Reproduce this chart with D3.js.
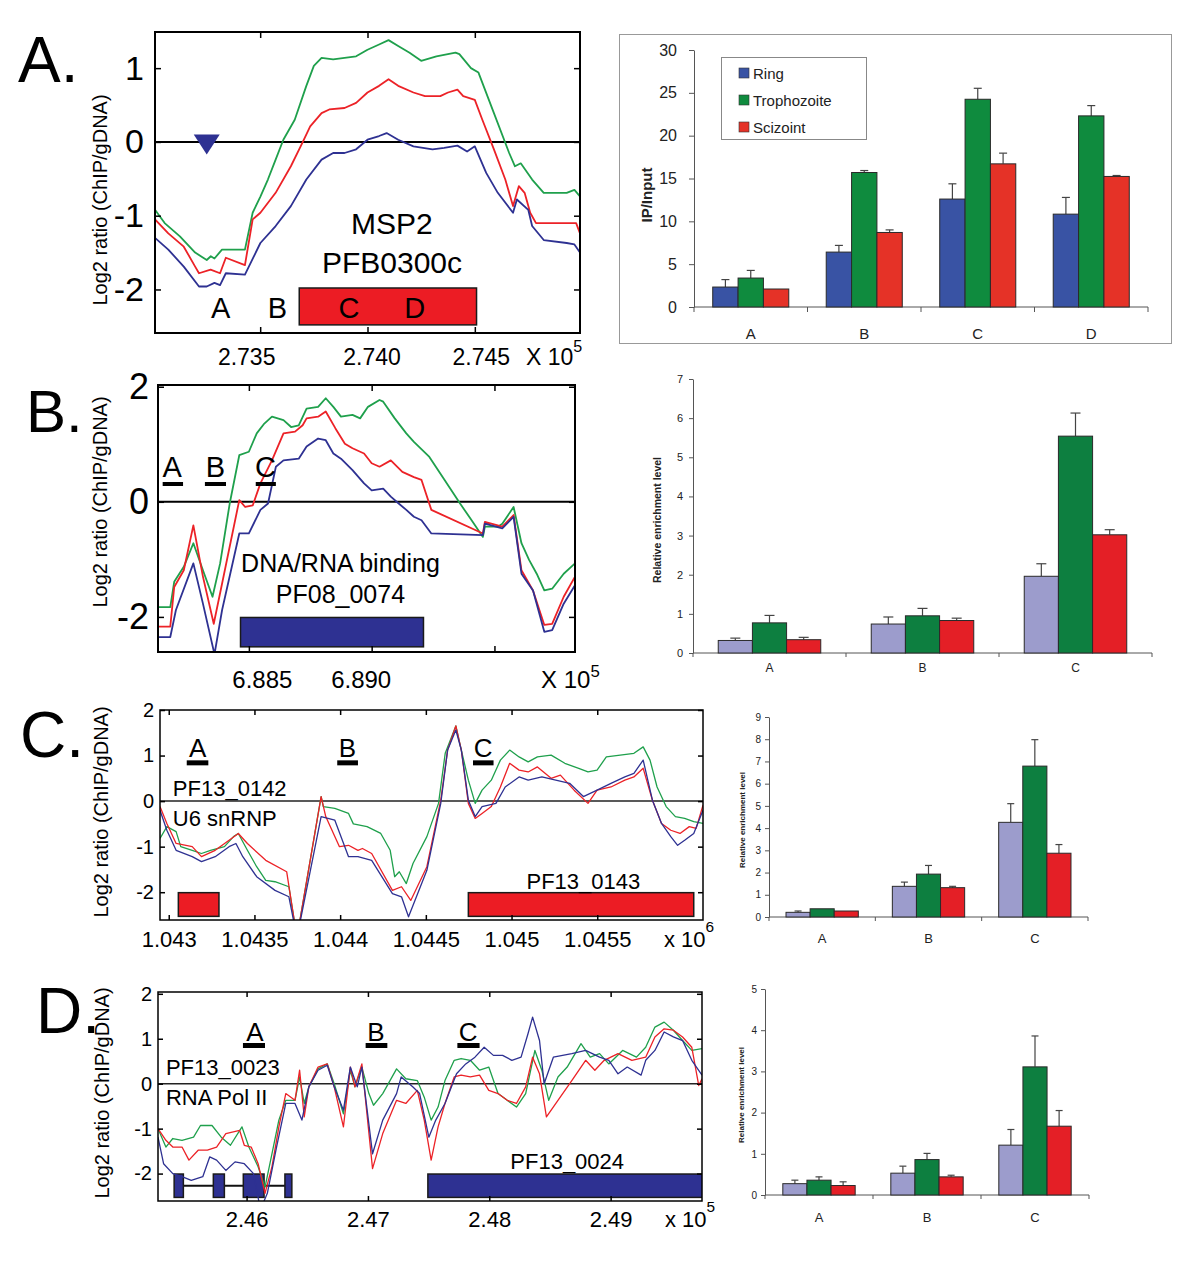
<!DOCTYPE html>
<html><head><meta charset="utf-8">
<script src="https://cdn.jsdelivr.net/npm/d3@7"></script>
<style>body{margin:0;background:#fff}svg{display:block}text{font-family:"Liberation Sans",Arial,sans-serif}</style>
</head><body><script>
// ---------------- DATA ----------------
const colGreen = '#1fa04c', colRed = '#ec2227', colBlue = '#2e3192';
// Panel A track (log2 ratio vs genomic position)
const A_green = [[273010,-0.92],[273055,-1.10],[273126,-1.28],[273197,-1.50],[273251,-1.60],[273270,-1.55],[273287,-1.58],[273322,-1.46],[273429,-1.46],[273465,-0.96],[273501,-0.74],[273536,-0.51],[273572,-0.24],[273608,0.03],[273661,0.30],[273715,0.76],[273750,1.03],[273786,1.14],[273840,1.12],[273893,1.14],[273947,1.16],[274000,1.25],[274054,1.32],[274098,1.38],[274143,1.30],[274196,1.21],[274250,1.10],[274321,1.16],[274410,1.21],[274428,1.19],[274482,1.00],[274517,0.94],[274589,0.39],[274660,-0.15],[274687,-0.33],[274714,-0.29],[274767,-0.51],[274821,-0.69],[274928,-0.69],[274964,-0.65],[274990,-0.74]];
const A_red = [[273010,-1.05],[273072,-1.24],[273144,-1.42],[273197,-1.69],[273215,-1.78],[273269,-1.73],[273313,-1.78],[273340,-1.57],[273429,-1.67],[273465,-1.05],[273501,-0.96],[273572,-0.69],[273643,-0.33],[273697,-0.01],[273733,0.21],[273786,0.39],[273822,0.44],[273893,0.46],[273947,0.53],[274000,0.67],[274054,0.76],[274098,0.85],[274143,0.76],[274214,0.67],[274268,0.62],[274339,0.62],[274375,0.67],[274419,0.71],[274446,0.62],[274500,0.57],[274535,0.30],[274589,-0.10],[274642,-0.51],[274678,-0.87],[274705,-0.60],[274732,-0.69],[274758,-0.96],[274785,-1.10],[274946,-1.10],[274972,-1.10],[274990,-1.24]];
const A_blue = [[273010,-1.30],[273072,-1.46],[273144,-1.69],[273215,-1.96],[273251,-1.96],[273287,-1.91],[273313,-1.94],[273340,-1.78],[273429,-1.80],[273501,-1.37],[273572,-1.14],[273643,-0.87],[273715,-0.51],[273786,-0.24],[273840,-0.15],[273893,-0.15],[273947,-0.10],[274000,0.03],[274054,0.08],[274089,0.12],[274143,0.03],[274214,-0.06],[274303,-0.10],[274357,-0.08],[274419,-0.05],[274464,-0.13],[274500,-0.06],[274553,-0.42],[274607,-0.69],[274678,-0.96],[274696,-0.78],[274749,-0.92],[274767,-1.14],[274821,-1.33],[274928,-1.37],[274964,-1.39],[274990,-1.50]];
const A_xTicks = [273500,274000,274500];
const A_xLabels = ['2.735','2.740','2.745'];
const A_yTicks = [-2,-1,0,1];
const A_yLabels = ['-2','-1','0','1'];
const A_genes = [[273682,274508]];
// Panel B track
const B_green = [[688130,-1.83],[688180,-1.83],[688196,-1.39],[688235,-1.13],[688274,-0.72],[688313,-1.19],[688352,-1.65],[688383,-1.07],[688422,-0.03],[688461,0.81],[688500,0.87],[688532,1.19],[688563,1.36],[688594,1.48],[688641,1.42],[688672,1.30],[688703,1.33],[688735,1.62],[688782,1.65],[688813,1.80],[688844,1.65],[688875,1.48],[688922,1.51],[688953,1.45],[688985,1.65],[689032,1.77],[689047,1.74],[689094,1.45],[689141,1.19],[689172,1.04],[689235,0.78],[689297,0.38],[689360,-0.03],[689407,-0.32],[689453,-0.61],[689461,-0.43],[689516,-0.43],[689532,-0.38],[689578,-0.09],[689610,-0.72],[689641,-1.01],[689672,-1.25],[689703,-1.54],[689735,-1.51],[689782,-1.25],[689828,-1.07]];
const B_red = [[688130,-2.17],[688180,-2.17],[688196,-1.48],[688235,-1.19],[688274,-0.41],[688313,-1.30],[688357,-2.12],[688391,-1.42],[688461,0.03],[688485,-0.09],[688516,-0.06],[688547,0.32],[688594,0.72],[688641,1.19],[688688,1.22],[688719,1.33],[688735,1.45],[688782,1.48],[688813,1.57],[688852,1.28],[688891,1.01],[688922,0.93],[688969,0.84],[689000,0.67],[689032,0.61],[689078,0.72],[689125,0.52],[689172,0.43],[689203,0.38],[689243,-0.14],[689453,-0.55],[689461,-0.35],[689532,-0.43],[689578,-0.23],[689610,-1.19],[689657,-1.54],[689703,-2.14],[689735,-2.12],[689782,-1.65],[689828,-1.30]];
const B_blue = [[688130,-2.35],[688180,-2.35],[688203,-1.88],[688274,-1.07],[688313,-1.77],[688360,-2.65],[688391,-1.88],[688461,-0.55],[688500,-0.55],[688547,-0.14],[688578,-0.03],[688610,0.61],[688641,0.72],[688703,0.75],[688735,0.96],[688782,1.10],[688813,1.07],[688844,0.84],[688875,0.75],[688922,0.55],[688969,0.32],[689000,0.20],[689047,0.23],[689078,0.09],[689110,-0.03],[689141,-0.14],[689172,-0.26],[689203,-0.32],[689243,-0.55],[689453,-0.58],[689461,-0.38],[689532,-0.46],[689578,-0.26],[689610,-1.25],[689657,-1.54],[689703,-2.26],[689735,-2.23],[689782,-1.77],[689828,-1.45]];
const B_xTicks = [688500,689000,689500];
const B_xLabels = ['6.885','6.890',''];
const B_yTicks = [-2,0,2];
const B_yLabels = ['-2','0','2'];
const B_genes = [[688466,689211]];
// Panel C track
const C_green = [[1042949,-0.82],[1042989,-0.56],[1043043,-0.67],[1043070,-1.00],[1043137,-1.08],[1043191,-1.15],[1043244,-1.08],[1043325,-1.00],[1043378,-0.78],[1043406,-0.71],[1043459,-1.08],[1043513,-1.44],[1043566,-1.74],[1043620,-1.77],[1043701,-1.88],[1043748,-3.0],[1043889,0.10],[1043902,-0.12],[1043969,-0.16],[1044049,-0.27],[1044077,-0.50],[1044157,-0.56],[1044237,-0.71],[1044292,-1.08],[1044318,-1.66],[1044345,-1.55],[1044386,-1.81],[1044425,-1.37],[1044506,-0.78],[1044574,-0.05],[1044613,1.05],[1044675,1.65],[1044707,1.12],[1044748,0.46],[1044788,-0.05],[1044828,0.24],[1044882,0.46],[1044935,0.90],[1044989,1.12],[1045044,0.97],[1045097,0.86],[1045151,0.97],[1045231,1.01],[1045311,0.83],[1045392,0.72],[1045446,0.64],[1045499,0.68],[1045553,0.97],[1045634,1.01],[1045714,1.05],[1045768,1.19],[1045808,0.90],[1045849,0.31],[1045902,-0.12],[1045956,-0.34],[1046010,-0.38],[1046063,-0.45],[1046117,-0.49]];
const C_red = [[1042949,-0.12],[1042989,-0.49],[1043043,-0.93],[1043137,-1.00],[1043191,-1.22],[1043271,-1.08],[1043352,-0.86],[1043406,-0.71],[1043459,-0.93],[1043566,-1.30],[1043688,-1.55],[1043748,-3.0],[1043889,0.10],[1043916,-0.34],[1043996,-1.00],[1044049,-0.97],[1044104,-1.08],[1044130,-1.04],[1044184,-1.15],[1044305,-1.96],[1044358,-1.88],[1044412,-2.18],[1044506,-1.44],[1044587,0.02],[1044627,1.12],[1044675,1.65],[1044707,1.12],[1044748,-0.05],[1044788,-0.38],[1044828,-0.27],[1044882,-0.12],[1044935,0.31],[1044989,0.83],[1045044,0.68],[1045097,0.64],[1045151,0.75],[1045231,0.50],[1045285,0.57],[1045365,0.24],[1045446,-0.05],[1045499,0.24],[1045580,0.31],[1045661,0.46],[1045714,0.53],[1045768,0.72],[1045822,0.02],[1045875,-0.49],[1045929,-0.64],[1045983,-0.71],[1046037,-0.56],[1046077,-0.60],[1046117,-0.09]];
const C_blue = [[1042949,-0.20],[1042989,-0.64],[1043043,-1.08],[1043137,-1.22],[1043191,-1.33],[1043271,-1.22],[1043352,-1.00],[1043392,-0.93],[1043432,-1.22],[1043513,-1.66],[1043620,-1.96],[1043701,-2.10],[1043748,-3.0],[1043889,-0.34],[1043969,-0.42],[1044049,-1.22],[1044104,-1.22],[1044184,-1.30],[1044305,-2.03],[1044358,-2.10],[1044399,-2.54],[1044506,-1.52],[1044587,-0.05],[1044627,1.12],[1044675,1.56],[1044707,1.12],[1044748,0.02],[1044788,-0.34],[1044828,-0.12],[1044909,-0.05],[1044963,0.31],[1045044,0.53],[1045097,0.46],[1045177,0.53],[1045258,0.46],[1045339,0.39],[1045419,0.10],[1045499,0.24],[1045580,0.39],[1045661,0.53],[1045714,0.61],[1045768,0.90],[1045822,0.02],[1045875,-0.49],[1045929,-0.78],[1045969,-0.97],[1046010,-0.86],[1046063,-0.71],[1046117,-0.20]];
const C_xTicks = [1043000,1043500,1044000,1044500,1045000,1045500];
const C_xLabels = ['1.043','1.0435','1.044','1.0445','1.045','1.0455'];
const C_yTicks = [-2,-1,0,1,2];
const C_yLabels = ['-2','-1','0','1','2'];
const C_genes = [[1043056,1043293],[1044748,1046063]];
// Panel D track
const D_green = [[245270,-1.00],[245335,-1.41],[245392,-1.22],[245468,-1.26],[245563,-1.19],[245620,-0.93],[245715,-0.93],[245791,-1.19],[245867,-1.37],[245962,-0.96],[246019,-1.41],[246095,-1.85],[246152,-2.30],[246209,-1.56],[246266,-0.81],[246323,-0.37],[246399,-0.37],[246437,0.15],[246475,-0.44],[246513,-0.07],[246589,0.33],[246665,0.44],[246722,0.00],[246798,-0.67],[246855,0.30],[246893,-0.07],[246950,0.37],[247008,-0.22],[247046,-0.48],[247122,-0.22],[247236,0.33],[247312,0.11],[247407,0.07],[247464,-0.30],[247521,-0.81],[247578,-0.52],[247635,0.07],[247711,0.52],[247768,0.56],[247844,0.52],[247920,0.30],[247996,0.37],[248072,-0.22],[248148,-0.37],[248224,-0.52],[248300,-0.22],[248376,0.74],[248433,0.30],[248490,-0.37],[248566,0.15],[248642,0.37],[248756,0.89],[248832,0.59],[248909,0.67],[248985,0.44],[249099,0.74],[249213,0.59],[249289,0.81],[249365,1.26],[249441,1.37],[249517,1.19],[249593,0.96],[249669,0.74],[249753,0.78]];
const D_red = [[245270,-1.00],[245335,-1.26],[245392,-1.41],[245468,-1.41],[245525,-1.70],[245601,-1.48],[245677,-1.48],[245753,-1.41],[245829,-1.11],[245943,-1.04],[245981,-1.37],[246038,-1.41],[246095,-1.78],[246152,-2.44],[246209,-1.85],[246266,-0.96],[246323,-0.22],[246399,-0.37],[246437,0.30],[246475,-0.74],[246513,-0.07],[246589,0.37],[246665,0.44],[246722,-0.07],[246798,-0.96],[246855,0.37],[246893,-0.07],[246950,0.44],[247038,-1.89],[247122,-1.11],[247236,-0.37],[247312,-0.44],[247407,-0.15],[247464,-0.81],[247521,-1.70],[247578,-0.96],[247635,-0.44],[247711,0.15],[247768,0.19],[247844,0.15],[247920,0.19],[247996,-0.15],[248072,-0.22],[248148,-0.37],[248224,-0.44],[248300,-0.07],[248357,0.59],[248414,0.22],[248471,-0.74],[248566,-0.37],[248680,0.07],[248794,0.52],[248870,0.30],[248947,0.52],[249061,0.67],[249175,0.52],[249289,0.59],[249365,1.04],[249441,1.22],[249517,1.19],[249593,1.04],[249669,0.81],[249726,-0.04],[249753,0.11]];
const D_blue = [[245270,-1.19],[245316,-1.78],[245392,-2.00],[245468,-2.07],[245544,-2.15],[245639,-2.07],[245696,-1.63],[245753,-1.70],[245829,-1.93],[245905,-1.74],[245981,-1.78],[246057,-2.00],[246114,-2.80],[246171,-2.44],[246247,-1.41],[246323,-0.44],[246399,-0.44],[246456,-0.81],[246513,-0.07],[246589,0.30],[246665,0.41],[246722,-0.07],[246798,-0.59],[246855,0.37],[246912,-0.07],[246950,0.37],[247038,-1.56],[247122,-0.81],[247236,-0.22],[247274,0.15],[247369,-0.07],[247426,-0.22],[247502,-1.19],[247559,-0.81],[247635,-0.44],[247730,0.22],[247806,0.44],[247882,0.59],[247958,0.81],[248034,0.63],[248110,0.63],[248186,0.52],[248262,0.59],[248319,1.11],[248357,1.48],[248414,0.96],[248452,0.00],[248528,0.59],[248604,0.63],[248680,0.67],[248794,0.74],[248909,0.59],[248985,0.52],[249061,0.22],[249137,0.37],[249251,0.19],[249289,0.52],[249365,0.74],[249441,1.15],[249517,1.04],[249593,0.96],[249669,0.52],[249753,0.19]];
const D_xTicks = [246000,247000,248000,249000];
const D_xLabels = ['2.46','2.47','2.48','2.49'];
const D_yTicks = [-2,-1,0,1,2];
const D_yLabels = ['-2','-1','0','1','2'];
const D_exons = [[245403,245479],[245726,245817],[245973,246144],[246316,246373]];
const D_genes = [[247494,249760]];

// Bar charts
const stages = ['Ring','Trophozoite','Scizoint'];
const A_barCats = ['A','B','C','D'];
const A_ring = [2.33,6.41,12.6,10.84], A_ringErr = [0.87,0.78,1.78,1.95];
const A_troph = [3.38,15.7,24.25,22.31], A_trophErr = [0.89,0.23,1.28,1.2];
const A_sciz = [2.1,8.7,16.71,15.24], A_scizErr = [0,0.3,1.25,0.11];
const A_barTicks = [0,5,10,15,20,25,30];
const B_barCats = ['A','B','C'];
const B_ring = [0.32,0.74,1.96], B_ringErr = [0.06,0.18,0.32];
const B_troph = [0.77,0.95,5.54], B_trophErr = [0.19,0.19,0.59];
const B_sciz = [0.34,0.83,3.02], B_scizErr = [0.06,0.06,0.13];
const B_barTicks = [0,1,2,3,4,5,6,7];
const C_barCats = ['A','B','C'];
const C_ring = [0.21,1.38,4.26], C_ringErr = [0.06,0.19,0.84];
const C_troph = [0.37,1.93,6.79], C_trophErr = [0,0.39,1.19];
const C_sciz = [0.27,1.32,2.87], C_scizErr = [0,0.06,0.39];
const C_barTicks = [0,1,2,3,4,5,6,7,8,9];
const D_barCats = ['A','B','C'];
const D_ring = [0.275,0.53,1.21], D_ringErr = [0.085,0.17,0.38];
const D_troph = [0.36,0.86,3.11], D_trophErr = [0.08,0.15,0.75];
const D_sciz = [0.23,0.44,1.67], D_scizErr = [0.09,0.04,0.38];
const D_barTicks = [0,1,2,3,4,5];

// ---------------- DRAWING ----------------
const FONT = '"Liberation Sans", Arial, sans-serif';
const svg = d3.select('body').append('svg').attr('width',1200).attr('height',1263);
const defs = svg.append('defs');

function track(c){
  const [bx0,by0,bx1,by1] = c.box;
  const x = d3.scaleLinear().domain(c.xdom).range([bx0,bx1]);
  const y = d3.scaleLinear().domain(c.ydom).range([by1,by0]);
  const g = svg.append('g');
  defs.append('clipPath').attr('id','clip'+c.id).append('rect')
    .attr('x',bx0).attr('y',by0).attr('width',bx1-bx0).attr('height',by1-by0);
  const pg = g.append('g').attr('clip-path',`url(#clip${c.id})`);
  if (c.intron) pg.append('line').attr('x1',x(c.intron[0])).attr('x2',x(c.intron[1]))
      .attr('y1',y(c.intron[2])).attr('y2',y(c.intron[2])).attr('stroke','#111').attr('stroke-width',2);
  (c.genes||[]).forEach(r=>{
    pg.append('rect').attr('x',x(r[0])).attr('y',y(c.geneY[1])).attr('width',x(r[1])-x(r[0]))
      .attr('height',y(c.geneY[0])-y(c.geneY[1])).attr('fill',c.geneColor).attr('stroke','#1a1a1a').attr('stroke-width',1.5);
  });
  pg.append('line').attr('x1',bx0).attr('x2',bx1).attr('y1',y(0)).attr('y2',y(0))
    .attr('stroke',c.zeroColor||'#000').attr('stroke-width',c.zeroW);
  const line = d3.line().x(d=>x(d[0])).y(d=>y(d[1]));
  c.series.forEach(s=> pg.append('path').attr('d',line(s.data)).attr('fill','none')
    .attr('stroke',s.color).attr('stroke-width',c.lw).attr('stroke-linejoin','round'));
  const style = (sel,fs)=>{ sel.attr('font-family',FONT).attr('font-size',fs); sel.select('.domain').remove();
    sel.selectAll('line').attr('stroke','#000').attr('stroke-width',1.5); sel.selectAll('text').attr('fill','#000'); };
  const bx = g.append('g').attr('transform',`translate(0,${by1})`)
    .call(d3.axisBottom(x).tickValues(c.xticks).tickFormat((d,i)=>c.xlabels[i]).tickSize(-c.tick).tickPadding(c.xpad))
    .call(s=>style(s,c.xfont));
  if (c.xdx) bx.selectAll('text').attr('dx',(d,i)=>c.xdx[i]);
  g.append('g').attr('transform',`translate(0,${by0})`)
    .call(d3.axisTop(x).tickValues(c.xticks).tickFormat('').tickSize(-c.tick)).call(s=>style(s,10));
  g.append('g').attr('transform',`translate(${bx0},0)`)
    .call(d3.axisLeft(y).tickValues(c.yticks).tickFormat((d,i)=>c.ylabels[i]).tickSize(-c.tick).tickPadding(c.ypad))
    .call(s=>style(s,c.yfont));
  g.append('g').attr('transform',`translate(${bx1},0)`)
    .call(d3.axisRight(y).tickValues(c.yticks).tickFormat('').tickSize(-c.tick)).call(s=>style(s,10));
  g.append('rect').attr('x',bx0).attr('y',by0).attr('width',bx1-bx0).attr('height',by1-by0)
    .attr('fill','none').attr('stroke','#000').attr('stroke-width',c.boxW);
  g.append('text').attr('transform',`translate(${c.ytitle[0]},${c.ytitle[1]}) rotate(-90)`)
    .attr('text-anchor','middle').attr('dominant-baseline','central').attr('font-size',c.ytitle[2]).text('Log2 ratio (ChIP/gDNA)');
  const e = g.append('text').attr('x',c.exp[0]).attr('y',c.exp[1]).attr('font-size',c.xfont);
  e.append('tspan').text(c.exp[2]);
  e.append('tspan').attr('dy',-c.exp[3]).attr('font-size',c.xfont*0.7).text(c.exp[4]);
  (c.bars||[]).forEach(b=> g.append('line').attr('x1',x(b[0])).attr('x2',x(b[1])).attr('y1',y(c.barY)).attr('y2',y(c.barY))
    .attr('stroke','#000').attr('stroke-width',c.barW));
  (c.texts||[]).forEach(t=> g.append('text').attr('x',x(t.x)).attr('y',y(t.y)).attr('text-anchor',t.a||'middle')
    .attr('dominant-baseline','central').attr('font-size',t.s).attr('fill','#000').text(t.t));
  svg.append('text').attr('x',c.letter[0]).attr('y',c.letter[1]).attr('font-size',c.letter[2]).text(c.letter[3]);
  return {x,y,g};
}

function bars(c){
  const g = svg.append('g');
  const y = d3.scaleLinear().domain([0,c.max]).range([c.yZero,c.yTop]);
  const xb = d3.scaleBand().domain(c.cats).range([c.x0,c.x1]).padding(0);
  const bw = xb.bandwidth();
  const xi = d3.scaleBand().domain(stages).range([bw*(1-c.gf)/2, bw*(1+c.gf)/2]).padding(0);
  const ax = g.append('g').attr('transform',`translate(${c.x0},0)`)
    .call(d3.axisLeft(y).tickValues(c.ticks).tickFormat(d3.format('d')).tickSize(c.tk).tickPadding(c.tpad).tickSizeOuter(0));
  ax.attr('font-family',FONT).attr('font-size',c.tfont);
  ax.selectAll('line,path').attr('stroke','#555');
  ax.selectAll('text').attr('fill','#222');
  g.append('line').attr('x1',c.x0).attr('x2',c.x1).attr('y1',c.yZero).attr('y2',c.yZero).attr('stroke','#555');
  const bounds = c.cats.map(k=>xb(k)).concat([c.x1]);
  g.selectAll('.xt').data(bounds).enter().append('line').attr('x1',d=>d).attr('x2',d=>d)
    .attr('y1',c.yZero).attr('y2',c.yZero+c.tk).attr('stroke','#555');
  g.selectAll('.cl').data(c.cats).enter().append('text').attr('x',d=>xb(d)+bw/2).attr('y',c.catY)
    .attr('text-anchor','middle').attr('font-size',c.cfont).attr('fill','#222').text(d=>d);
  c.series.forEach((s,si)=>{
    const name = stages[si];
    c.cats.forEach((k,i)=>{
      const bx = xb(k)+xi(name), w = xi.bandwidth(), cx = bx+w/2;
      if (s.err[i]>0){
        g.append('line').attr('x1',cx).attr('x2',cx).attr('y1',y(s.vals[i])).attr('y2',y(s.vals[i]+s.err[i])).attr('stroke','#444').attr('stroke-width',1.2);
        g.append('line').attr('x1',cx-c.cap/2).attr('x2',cx+c.cap/2).attr('y1',y(s.vals[i]+s.err[i])).attr('y2',y(s.vals[i]+s.err[i])).attr('stroke','#444').attr('stroke-width',1.2);
      }
      g.append('rect').attr('x',bx).attr('y',y(s.vals[i])).attr('width',w).attr('height',y(0)-y(s.vals[i]))
        .attr('fill',s.color).attr('stroke','#2a2a2a').attr('stroke-width',1);
    });
  });
  g.append('text').attr('transform',`translate(${c.yl[0]},${c.yl[1]}) rotate(-90)`).attr('text-anchor','middle')
    .attr('dominant-baseline','central').attr('font-size',c.yl[2]).attr('font-weight','bold').attr('fill','#222').text(c.yl[3]);
  return {g,y,xb};
}

// ---- Panel A ----
const tA = track({id:'A', box:[155,32,580,333], xdom:[273010,274990], ydom:[-2.59,1.49],
  xticks:A_xTicks, xlabels:A_xLabels, yticks:A_yTicks, ylabels:A_yLabels, tick:6, xpad:16, ypad:11, xfont:23, yfont:34,
  lw:1.8, boxW:2, zeroW:2, xdx:[-14,4,6],
  series:[{color:colGreen,data:A_green},{color:colRed,data:A_red},{color:colBlue,data:A_blue}],
  genes:A_genes, geneY:[-2.48,-1.98], geneColor:'#ec1c24',
  ytitle:[100,200,20], exp:[526,365,'X 10',13,'5'],
  texts:[{t:'MSP2',x:274114,y:-1.11,s:30},{t:'PFB0300c',x:274114,y:-1.64,s:30},
    {t:'A',x:273316,y:-2.25,s:29},{t:'B',x:273580,y:-2.25,s:29},{t:'C',x:273914,y:-2.25,s:29},{t:'D',x:274220,y:-2.25,s:29}],
  letter:[18,82,64,'A.']});
tA.g.append('path').attr('d',`M${tA.x(273251)-13},${tA.y(0.1)}L${tA.x(273251)+13},${tA.y(0.1)}L${tA.x(273251)},${tA.y(-0.17)}Z`).attr('fill',colBlue);

// ---- Panel B ----
track({id:'B', box:[158,385,575,652], xdom:[688130,689828], ydom:[-2.61,2.03],
  xticks:B_xTicks, xlabels:B_xLabels, yticks:B_yTicks, ylabels:B_yLabels, tick:6, xpad:19, ypad:9, xfont:24, yfont:36,
  lw:1.8, boxW:2, zeroW:2, xdx:[13,-11,0],
  series:[{color:colGreen,data:B_green},{color:colRed,data:B_red},{color:colBlue,data:B_blue}],
  genes:B_genes, geneY:[-2.52,-2.01], geneColor:colBlue,
  ytitle:[100,502,20], exp:[541,688,'X 10',11,'5'],
  bars:[[688149,688232],[688321,688407],[688528,688610]], barY:0.31, barW:4,
  texts:[{t:'A',x:688188,y:0.61,s:29},{t:'B',x:688364,y:0.61,s:29},{t:'C',x:688568,y:0.61,s:29},
    {t:'DNA/RNA binding',x:688873,y:-1.07,s:25},{t:'PF08_0074',x:688873,y:-1.61,s:25}],
  letter:[26,432,60,'B.']});

// ---- Panel C ----
track({id:'C', box:[160,710,703,920], xdom:[1042949,1046117], ydom:[-2.61,2.0],
  xticks:C_xTicks, xlabels:C_xLabels, yticks:C_yTicks, ylabels:C_yLabels, tick:5, xpad:11, ypad:6, xfont:22, yfont:20,
  lw:1.3, boxW:1.5, zeroW:1.5, zeroColor:'#222',
  series:[{color:colGreen,data:C_green},{color:colRed,data:C_red},{color:colBlue,data:C_blue}],
  genes:C_genes, geneY:[-2.53,-2.01], geneColor:'#ec1c24',
  ytitle:[101,812,20], exp:[664,947,'x 10',15,'6'],
  bars:[[1043105,1043231],[1043983,1044104],[1044775,1044895]], barY:0.84, barW:5,
  texts:[{t:'A',x:1043169,y:1.16,s:26},{t:'B',x:1044042,y:1.16,s:26},{t:'C',x:1044834,y:1.16,s:26},
    {t:'PF13_0142',x:1043024,y:0.28,s:22,a:'start'},{t:'U6 snRNP',x:1043024,y:-0.38,s:22,a:'start'},
    {t:'PF13_0143',x:1045419,y:-1.77,s:22}],
  letter:[20,757,64,'C.']});

// ---- Panel D ----
track({id:'D', box:[158,992,702,1201], xdom:[245270,249753], ydom:[-2.61,2.04],
  xticks:D_xTicks, xlabels:D_xLabels, yticks:D_yTicks, ylabels:D_yLabels, tick:5, xpad:10, ypad:6, xfont:22, yfont:20,
  lw:1.3, boxW:1.5, zeroW:1.5, zeroColor:'#222',
  series:[{color:colGreen,data:D_green},{color:colRed,data:D_red},{color:colBlue,data:D_blue}],
  genes:D_exons.concat(D_genes), geneY:[-2.53,-2.01], geneColor:colBlue, intron:[245479,246316,-2.27],
  ytitle:[102,1093,20], exp:[665,1227,'x 10',15,'5'],
  bars:[[245970,246152],[246981,247160],[247737,247920]], barY:0.85, barW:5,
  texts:[{t:'A',x:246068,y:1.15,s:26},{t:'B',x:247065,y:1.15,s:26},{t:'C',x:247825,y:1.15,s:26},
    {t:'PF13_0023',x:245335,y:0.37,s:22,a:'start'},{t:'RNA Pol II',x:245335,y:-0.30,s:22,a:'start'},
    {t:'PF13_0024',x:248642,y:-1.74,s:22}],
  letter:[36,1033,64,'D.']});

// ---- Bar charts ----
svg.append('rect').attr('x',619.5).attr('y',34.5).attr('width',552).attr('height',309).attr('fill','none').attr('stroke','#999');
bars({x0:694,x1:1148,yZero:307,yTop:50,max:30,ticks:A_barTicks,cats:A_barCats,gf:0.67,tk:5,tpad:12,tfont:16,cfont:15,catY:339,cap:8,
  series:[{color:'#3953a4',vals:A_ring,err:A_ringErr},{color:'#0f8b3e',vals:A_troph,err:A_trophErr},{color:'#e53227',vals:A_sciz,err:A_scizErr}],
  yl:[646,195,15,'IP/Input']});
const lg = svg.append('g');
lg.append('rect').attr('x',721.5).attr('y',57.5).attr('width',145).attr('height',82).attr('fill','#fff').attr('stroke','#888');
const legCols = ['#3953a4','#0f8b3e','#e53227'];
stages.forEach((s,i)=>{
  lg.append('rect').attr('x',739).attr('y',68+i*27).attr('width',10).attr('height',10).attr('fill',legCols[i]).attr('stroke','#333').attr('stroke-width',0.6);
  lg.append('text').attr('x',753).attr('y',79+i*27).attr('font-size',15).attr('fill','#222').text(s);
});
const lav = '#9c9ccc', grn = '#0d7f40', rd = '#e41f26';
bars({x0:693,x1:1152,yZero:653,yTop:379,max:7,ticks:B_barTicks,cats:B_barCats,gf:0.67,tk:4,tpad:6,tfont:11,cfont:12,catY:672,cap:10,
  series:[{color:lav,vals:B_ring,err:B_ringErr},{color:grn,vals:B_troph,err:B_trophErr},{color:rd,vals:B_sciz,err:B_scizErr}],
  yl:[657,520,10.5,'Relative enrichment level']});
bars({x0:769,x1:1088,yZero:917,yTop:717,max:9,ticks:C_barTicks,cats:C_barCats,gf:0.68,tk:4,tpad:4,tfont:10,cfont:13,catY:943,cap:7,
  series:[{color:lav,vals:C_ring,err:C_ringErr},{color:grn,vals:C_troph,err:C_trophErr},{color:rd,vals:C_sciz,err:C_scizErr}],
  yl:[742,820,8,'Relative enrichment level']});
bars({x0:765,x1:1089,yZero:1195,yTop:989,max:5,ticks:D_barTicks,cats:D_barCats,gf:0.67,tk:4,tpad:4,tfont:10,cfont:13,catY:1222,cap:7,
  series:[{color:lav,vals:D_ring,err:D_ringErr},{color:grn,vals:D_troph,err:D_trophErr},{color:rd,vals:D_sciz,err:D_scizErr}],
  yl:[741,1095,8,'Relative enrichment level']});
</script></body></html>
